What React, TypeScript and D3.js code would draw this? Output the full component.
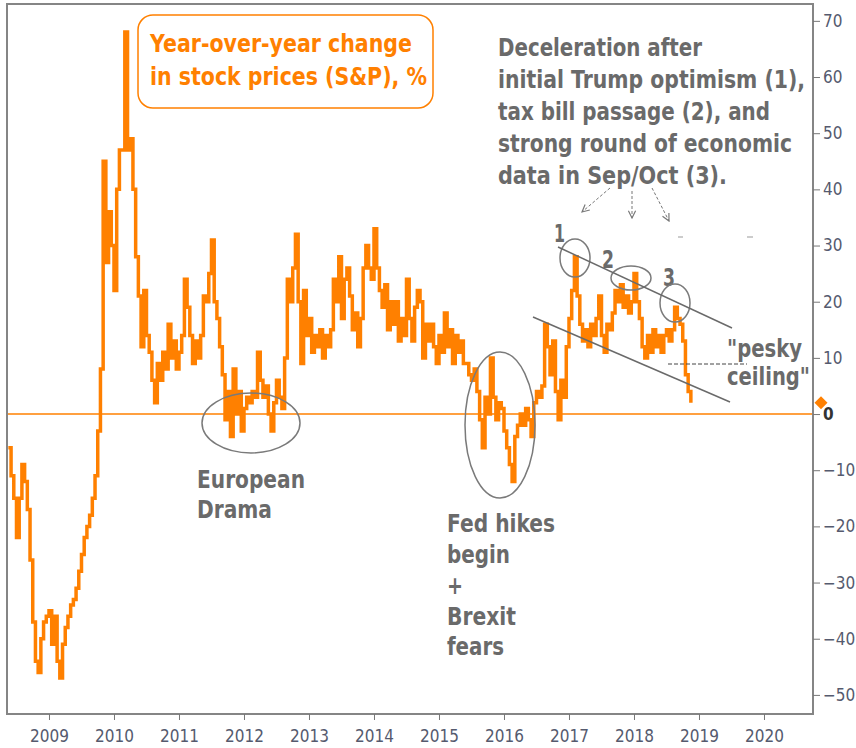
import React, { useRef, useEffect } from "react";
import * as d3 from "d3";

// S&P 500 year-over-year change, %, read twice a month off the chart
const perYear = 24;
const firstIndex2008 = 9; // series begins mid-May 2008

const v2008 = [-6, -11, -15, -22, -15, -9, -12, -17, -26, -37, -44, -46, -40, -37, -36];
const v2009 = [-35, -41, -36, -44, -47, -41, -38, -36, -34, -33, -31, -28, -25, -22, -20, -18, -15, -11, -3, 8, 45, 27, 36, 30];
const v2010 = [22, 40, 47, 47, 68, 47, 49, 40, 28, 21, 12, 22, 14, 11, 6, 2, 9, 6, 11, 8, 16, 10, 13, 8];
const v2011 = [11, 14, 24, 19, 14, 9, 13, 10, 14, 21, 20, 25, 31, 20, 17, 12, 7, -1, 4, -4, 8, 0, 4, -3];
const v2012 = [1, 3, 2, 4, 3, 11, 6, 3, 5, 0, -3, 2, 6, 3, 1, 10, 24, 20, 26, 32, 20, 9, 22, 14];
const v2013 = [17, 11, 14, 12, 15, 10, 14, 12, 15, 24, 20, 28, 17, 24, 26, 21, 15, 18, 12, 17, 26, 30, 26, 24];
const v2014 = [33, 26, 22, 19, 23, 15, 20, 16, 20, 13, 17, 14, 24, 17, 13, 19, 22, 20, 10, 16, 13, 16, 12, 9];
const v2015 = [14, 11, 18, 12, 15, 9, 14, 11, 13, 9, 9, 7, 6, 8, 4, -1, -6, 3, 0, 10, 3, -1, 2, 1];
const v2016 = [-3, -6, -9, -12, -4, -2, 0, -2, 1, -1, -4, 2, 4, 3, 5, 16, 12, 7, 13, 4, -1, 6, 3, 12];
const v2017 = [17, 22, 28, 21, 16, 13, 15, 12, 16, 14, 17, 21, 14, 11, 16, 15, 18, 22, 20, 23, 19, 21, 18, 20];
const v2018 = [25, 20, 17, 12, 10, 14, 11, 15, 12, 14, 11, 14, 15, 13, 15, 19, 17, 16, 13, 7, 4, 2];

const yearSeries: [number, number[]][] = [
  [2008, v2008], [2009, v2009], [2010, v2010], [2011, v2011], [2012, v2012], [2013, v2013],
  [2014, v2014], [2015, v2015], [2016, v2016], [2017, v2017], [2018, v2018],
];

const xTicks = [2009, 2010, 2011, 2012, 2013, 2014, 2015, 2016, 2017, 2018, 2019, 2020];
const yTicks = [-50, -40, -30, -20, -10, 0, 10, 20, 30, 40, 50, 60, 70];
const xDomain = [2008.354, 2020.754];
const yDomain = [-53.4, 73];

const titleLines = ["Year-over-year change", "in stock prices (S&P), %"];
const noteLines = [
  "Deceleration after",
  "initial Trump optimism (1),",
  "tax bill passage (2), and",
  "strong round of economic",
  "data in Sep/Oct (3).",
];

const W = 856;
const H = 748;
const plot = { left: 7, right: 813, top: 4, bottom: 714 };
const ORANGE = "#ff8000";
const GREY = "#6a6a6a";
const FONT = "'DejaVu Sans', Verdana, sans-serif";

// bold annotation text, stretched a little taller like the original
const Txt = ({ x, y, w, size = 20, fill = GREY, children }: any) => (
  <text
    transform={`translate(${x},${y}) scale(1,1.2)`}
    fontSize={size}
    fontWeight="bold"
    fill={fill}
    fontFamily={FONT}
    textLength={w}
    lengthAdjust="spacingAndGlyphs"
  >
    {children}
  </text>
);

const App = () => {
  const xAxisRef = useRef<SVGGElement>(null);
  const yAxisRef = useRef<SVGGElement>(null);

  const x = d3.scaleLinear().domain(xDomain).range([plot.left, plot.right]);
  const y = d3.scaleLinear().domain(yDomain).range([plot.bottom, plot.top]);

  const points: [number, number][] = [];
  yearSeries.forEach(([yr, vals]) => {
    const off = yr === 2008 ? firstIndex2008 : 0;
    vals.forEach((v, i) => points.push([yr + (off + i) / perYear, v]));
  });
  const last = points[points.length - 1];

  const line = d3
    .line<[number, number]>()
    .x((d) => x(d[0]))
    .y((d) => y(d[1]))
    .curve(d3.curveStepAfter);

  useEffect(() => {
    const gx = d3.select(xAxisRef.current);
    gx.call(
      d3.axisBottom(x).tickValues(xTicks).tickFormat(d3.format("d")).tickSize(6).tickPadding(10)
    );
    gx.select(".domain").remove();
    gx.selectAll(".tick line").attr("stroke", "#777");
    gx.selectAll(".tick text")
      .attr("font-size", 17)
      .attr("font-family", FONT)
      .attr("font-stretch", "condensed")
      .attr("fill", "#555a6e");

    const gy = d3.select(yAxisRef.current);
    gy.call(d3.axisRight(y).tickValues(yTicks).tickSize(7).tickPadding(3));
    gy.select(".domain").remove();
    gy.selectAll(".tick line").attr("stroke", "#777");
    gy.selectAll(".tick text")
      .attr("font-size", 17)
      .attr("font-family", FONT)
      .attr("font-stretch", "condensed")
      .attr("fill", (d: any) => (d === 0 ? "#333" : "#555a6e"))
      .attr("font-weight", (d: any) => (d === 0 ? "bold" : "normal"));
  }, []);

  const dx = plot.right + 8;
  const dy = y(last[1]);

  return (
    <svg width={W} height={H} style={{ position: "absolute", left: 0, top: 0, background: "#fff" }}>
      {/* zero line */}
      <line x1={plot.left} x2={plot.right} y1={y(0)} y2={y(0)} stroke={ORANGE} strokeWidth={1.5} />

      {/* series */}
      <path d={line(points) || ""} fill="none" stroke={ORANGE} strokeWidth={3.5} strokeLinejoin="miter" />

      {/* frame */}
      <rect
        x={plot.left}
        y={plot.top}
        width={plot.right - plot.left}
        height={plot.bottom - plot.top}
        fill="none"
        stroke="#858585"
        strokeWidth={2}
      />

      <g ref={xAxisRef} transform={`translate(0,${plot.bottom})`} />
      <g ref={yAxisRef} transform={`translate(${plot.right},0)`} />

      {/* latest value marker */}
      <path d={`M${dx},${dy - 6.5}L${dx + 6.5},${dy}L${dx},${dy + 6.5}L${dx - 6.5},${dy}Z`} fill={ORANGE} />

      {/* title box */}
      <rect x={138} y={15} width={295} height={93} rx={15} fill="#fff" stroke={ORANGE} strokeWidth={1.5} />
      <Txt x={150} y={52} w={262} fill={ORANGE}>{titleLines[0]}</Txt>
      <Txt x={150} y={85} w={277} fill={ORANGE}>{titleLines[1]}</Txt>

      {/* note */}
      {noteLines.map((t, i) => (
        <Txt key={t} x={498} y={56 + i * 32} w={[204, 307, 272, 294, 229][i]}>
          {t}
        </Txt>
      ))}

      <defs>
        <marker id="arr" viewBox="0 0 10 10" refX="9" refY="5" markerWidth="9" markerHeight="9" orient="auto">
          <path d="M1,1L9,5L1,9" fill="none" stroke="#777" strokeWidth={1.3} />
        </marker>
      </defs>
      <g stroke="#777" strokeWidth={1} strokeDasharray="3,2" fill="none">
        <line x1={610} y1={188} x2={582} y2={212} markerEnd="url(#arr)" />
        <line x1={632} y1={191} x2={632} y2={218} markerEnd="url(#arr)" />
        <line x1={652} y1={188} x2={669} y2={221} markerEnd="url(#arr)" />
      </g>
      <g stroke="#999" strokeWidth={1}>
        <line x1={678} x2={683} y1={237} y2={237} />
        <line x1={747} x2={753} y1={237} y2={237} />
      </g>

      {/* circled peaks */}
      <Txt x={554} y={242} w={11}>1</Txt>
      <Txt x={602} y={268} w={12}>2</Txt>
      <Txt x={663} y={286} w={12}>3</Txt>
      <g fill="none" stroke="#7a7a7a" strokeWidth={1.5}>
        <ellipse cx={575} cy={258} rx={15} ry={19} />
        <ellipse cx={631} cy={278} rx={20} ry={12} />
        <ellipse cx={675} cy={303} rx={15} ry={19} />
        <ellipse cx={251} cy={423} rx={49} ry={30} />
        <ellipse cx={500} cy={425} rx={35} ry={73} />
      </g>

      {/* channel */}
      <g stroke="#6a6a6a" strokeWidth={1.5}>
        <line x1={558} y1={247} x2={732} y2={328} />
        <line x1={533} y1={317} x2={730} y2={402} />
      </g>
      <line x1={668} x2={747} y1={364} y2={364} stroke="#444" strokeWidth={1} strokeDasharray="4,2" />
      <Txt x={727} y={357} w={75}>"pesky</Txt>
      <Txt x={727} y={385} w={83}>ceiling"</Txt>

      <Txt x={197} y={488} w={108}>European</Txt>
      <Txt x={197} y={518} w={75}>Drama</Txt>

      <Txt x={447} y={532} w={108}>Fed hikes</Txt>
      <Txt x={447} y={563} w={63}>begin</Txt>
      <Txt x={447} y={594} w={16}>+</Txt>
      <Txt x={447} y={625} w={69}>Brexit</Txt>
      <Txt x={447} y={655} w={57}>fears</Txt>
    </svg>
  );
};

export default App;
